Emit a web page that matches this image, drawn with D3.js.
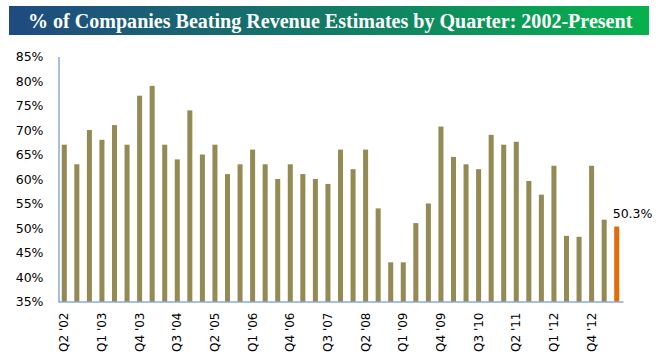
<!DOCTYPE html>
<html><head><meta charset="utf-8">
<script src="https://cdn.jsdelivr.net/npm/d3@7"></script>
<style>body{margin:0;background:#fff}svg{display:block}</style>
</head><body><svg id="c" width="658" height="360"></svg>
<script>
const title = "% of Companies Beating Revenue Estimates by Quarter: 2002-Present";
const quarters = ["Q2 '02","Q3 '02","Q4 '02","Q1 '03","Q2 '03","Q3 '03","Q4 '03","Q1 '04","Q2 '04","Q3 '04","Q4 '04","Q1 '05","Q2 '05","Q3 '05","Q4 '05","Q1 '06","Q2 '06","Q3 '06","Q4 '06","Q1 '07","Q2 '07","Q3 '07","Q4 '07","Q1 '08","Q2 '08","Q3 '08","Q4 '08","Q1 '09","Q2 '09","Q3 '09","Q4 '09","Q1 '10","Q2 '10","Q3 '10","Q4 '10","Q1 '11","Q2 '11","Q3 '11","Q4 '11","Q1 '12","Q2 '12","Q3 '12","Q4 '12","Q1 '13","Q2 '13"];
const values = [67,63,70,68,71,67,77,79,67,64,74,65,67,61,63,66,63,60,63,61,60,59,66,62,66,54,43,43,51,55,70.7,64.5,63,62,69,67,67.6,59.6,56.8,62.7,48.4,48.2,62.7,51.7,50.3];
const yTicks = [35,40,45,50,55,60,65,70,75,80,85];
const shownLabels = ["Q2 '02","Q1 '03","Q4 '03","Q3 '04","Q2 '05","Q1 '06","Q4 '06","Q3 '07","Q2 '08","Q1 '09","Q4 '09","Q3 '10","Q2 '11","Q1 '12","Q4 '12"];

const svg = d3.select("#c");
// banner
const defs = svg.append("defs");
const g = defs.append("linearGradient").attr("id","bg").attr("x1","0").attr("x2","1").attr("y1","0").attr("y2","0");
g.append("stop").attr("offset","0%").attr("stop-color","#1f4a80");
g.append("stop").attr("offset","50%").attr("stop-color","#137a66");
g.append("stop").attr("offset","100%").attr("stop-color","#06b24c");
svg.append("rect").attr("x",9).attr("y",6).attr("width",640).attr("height",29).attr("fill","url(#bg)");
const tt = svg.append("text").attr("x",28).attr("y",28).attr("fill","#fff")
  .attr("font-family","Liberation Serif, serif").attr("font-weight","bold").attr("font-size",21).text(title);
const w = tt.node().getComputedTextLength();
tt.attr("font-size", Math.min(22, 21*605/w));

const x = d3.scaleBand().domain(quarters).range([58,623]).paddingInner(0.6).paddingOuter(0.3);
const y = d3.scaleLinear().domain([35,85]).range([301.5,56.5]);

svg.append("g").selectAll("rect").data(values).join("rect")
  .attr("x",(d,i)=>x(quarters[i])).attr("width",x.bandwidth())
  .attr("y",d=>y(d)).attr("height",d=>y(35)-y(d))
  .attr("fill",(d,i)=>i===values.length-1?"#e36c09":"#948a54");

const font = "DejaVu Sans, Verdana, sans-serif";
const ya = svg.append("g").attr("transform","translate(58.5,0)")
  .call(d3.axisLeft(y).tickValues(yTicks).tickFormat(d=>d+"%").tickSize(0).tickPadding(15));
ya.select(".domain").attr("stroke","#4f81bd");
ya.selectAll("text").attr("font-family",font).attr("font-size",12.5).attr("fill","#000");

const xa = svg.append("g").attr("transform","translate(0,301.5)")
  .call(d3.axisBottom(x).tickValues(shownLabels).tickSize(0).tickSizeOuter(0));
xa.select(".domain").attr("stroke","#4f81bd");
xa.selectAll("text").attr("font-family",font).attr("font-size",12).attr("fill","#000")
  .attr("transform","rotate(-90)").attr("text-anchor","end").attr("dy","0.35em").attr("x",-11).attr("y",0);

const last = values.length-1;
svg.append("text").attr("x",x(quarters[last])+x.bandwidth()/2-4).attr("y",y(values[last])-9)
  .attr("font-family",font).attr("font-size",12.5).attr("fill","#000").text(values[last].toFixed(1)+"%");
</script></body></html>
